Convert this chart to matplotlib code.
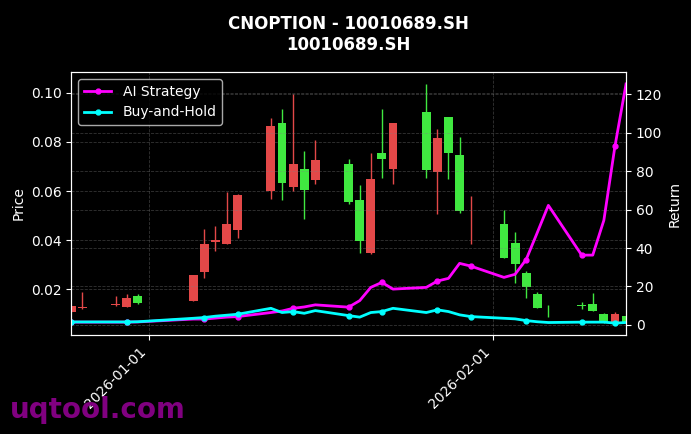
import matplotlib
matplotlib.use("Agg")
import matplotlib.pyplot as plt
import matplotlib.dates as mdates
import pandas as pd

# trading days shown on the chart
dates = pd.to_datetime([
    "2025-12-25", "2025-12-26", "2025-12-29", "2025-12-30", "2025-12-31",
    "2026-01-05", "2026-01-06", "2026-01-07", "2026-01-08", "2026-01-09",
    "2026-01-12", "2026-01-13", "2026-01-14", "2026-01-15", "2026-01-16",
    "2026-01-19", "2026-01-20", "2026-01-21", "2026-01-22", "2026-01-23",
    "2026-01-26", "2026-01-27", "2026-01-28", "2026-01-29", "2026-01-30",
    "2026-02-02", "2026-02-03", "2026-02-04", "2026-02-05", "2026-02-06",
    "2026-02-09", "2026-02-10", "2026-02-11", "2026-02-12", "2026-02-13",
])

opens = [0.0108, 0.0126, 0.0138, 0.0129, 0.0173,
         0.0152, 0.0271, 0.0395, 0.0385, 0.0443,
         0.0602, 0.0876, 0.0618, 0.0692, 0.0647,
         0.0712, 0.0565, 0.0348, 0.0757, 0.0692,
         0.0921, 0.0676, 0.0901, 0.0749, 0.0497,
         0.0467, 0.0389, 0.0267, 0.0181, 0.0092,
         0.0135, 0.0139, 0.0100, 0.0063, 0.0091]
highs = [0.0132, 0.0189, 0.0175, 0.0180, 0.0180,
         0.0258, 0.0447, 0.0459, 0.0598, 0.0590,
         0.0897, 0.0933, 0.0995, 0.0762, 0.0807,
         0.0729, 0.0627, 0.0757, 0.0933, 0.0876,
         0.1036, 0.0852, 0.0901, 0.0819, 0.0582,
         0.0524, 0.0434, 0.0275, 0.0189, 0.0136,
         0.0148, 0.0186, 0.0104, 0.0108, 0.0091]
lows = [0.0108, 0.0122, 0.0132, 0.0129, 0.0139,
        0.0152, 0.0246, 0.0357, 0.0385, 0.0410,
        0.0569, 0.0565, 0.0602, 0.0488, 0.0631,
        0.0549, 0.0348, 0.0344, 0.0655, 0.0631,
        0.0655, 0.0508, 0.0651, 0.0512, 0.0385,
        0.0328, 0.0226, 0.0164, 0.0124, 0.0087,
        0.0122, 0.0114, 0.0063, 0.0063, 0.0063]
closes = [0.0132, 0.0128, 0.0139, 0.0166, 0.0145,
          0.0258, 0.0385, 0.0401, 0.0467, 0.0586,
          0.0864, 0.0635, 0.0712, 0.0606, 0.0725,
          0.0557, 0.0398, 0.0651, 0.0729, 0.0876,
          0.0684, 0.0815, 0.0757, 0.0520, 0.0500,
          0.0328, 0.0303, 0.0209, 0.0124, 0.0090,
          0.0134, 0.0114, 0.0063, 0.0102, 0.0063]

ai_return = [1.4, 1.4, 1.4, 1.4, 1.5,
             3.0, 3.0, 3.5, 4.0, 4.3,
             6.4, 7.2, 8.6, 9.3, 10.4,
             9.2, 12.6, 19.5, 22.1, 18.6,
             19.5, 22.8, 24.2, 32.0, 30.6,
             24.7, 26.3, 34.0, 48.0, 62.2,
             36.3, 36.3, 54.4, 93.0, 125.4]
bh_return = [1.5, 1.5, 1.5, 1.5, 1.6,
             3.4, 3.8, 4.5, 5.0, 5.5,
             8.6, 6.4, 6.9, 6.0, 7.4,
             4.8, 4.0, 6.4, 6.9, 8.6,
             6.4, 7.8, 6.9, 5.2, 4.3,
             3.4, 3.1, 2.2, 1.6, 1.2,
             1.4, 1.4, 1.4, 0.9, 1.2]

plt.style.use("dark_background")
fig = plt.figure(figsize=(6.91, 4.34), dpi=100)
fig.subplots_adjust(left=0.103, right=0.906, bottom=0.228, top=0.834)
ax = fig.add_subplot(111)

up_color = "#e34848"
down_color = "#40e840"
colors = [up_color if c >= o else down_color for o, c in zip(opens, closes)]

# wicks
ax.vlines(dates, lows, highs, colors=colors, linewidth=1, zorder=2)
# bodies
bottoms = [min(o, c) for o, c in zip(opens, closes)]
heights = [max(abs(c - o), 0.0003) for o, c in zip(opens, closes)]
ax.bar(dates, heights, bottom=bottoms, width=0.8, color=colors, zorder=3)

lo, hi = min(lows), max(highs)
pad = 0.05 * (hi - lo)
ax.set_ylim(lo - pad, hi + pad)
ax.set_xlim(dates[0], dates[-1])
ax.set_ylabel("Price")
ax.grid(True, linestyle="--", color="gray", alpha=0.4, linewidth=0.6)

ax2 = ax.twinx()
ax2.plot(dates, ai_return, color="#ff00ff", linewidth=2, marker="o",
         markersize=3.5, markevery=3, label="AI Strategy")
ax2.plot(dates, bh_return, color="#00ffff", linewidth=2, marker="o",
         markersize=3.5, markevery=3, label="Buy-and-Hold")
ax2.set_ylabel("Return")
ax2.grid(True, linestyle="--", color="gray", alpha=0.4, linewidth=0.6)
ax2.legend(loc="upper left", facecolor="black", edgecolor="lightgray")

ax.xaxis.set_major_locator(mdates.MonthLocator())
ax.xaxis.set_major_formatter(mdates.DateFormatter("%Y-%m-%d"))
plt.setp(ax.get_xticklabels(), rotation=45, ha="right")

ax.set_title("CNOPTION - 10010689.SH\n10010689.SH", fontsize=12,
             fontweight="bold", pad=16)

fig.text(0.015, 0.037, "uqtool.com", fontsize=20, fontweight="bold",
         color="#800080", va="baseline")

fig.savefig("out.png", dpi=100)
